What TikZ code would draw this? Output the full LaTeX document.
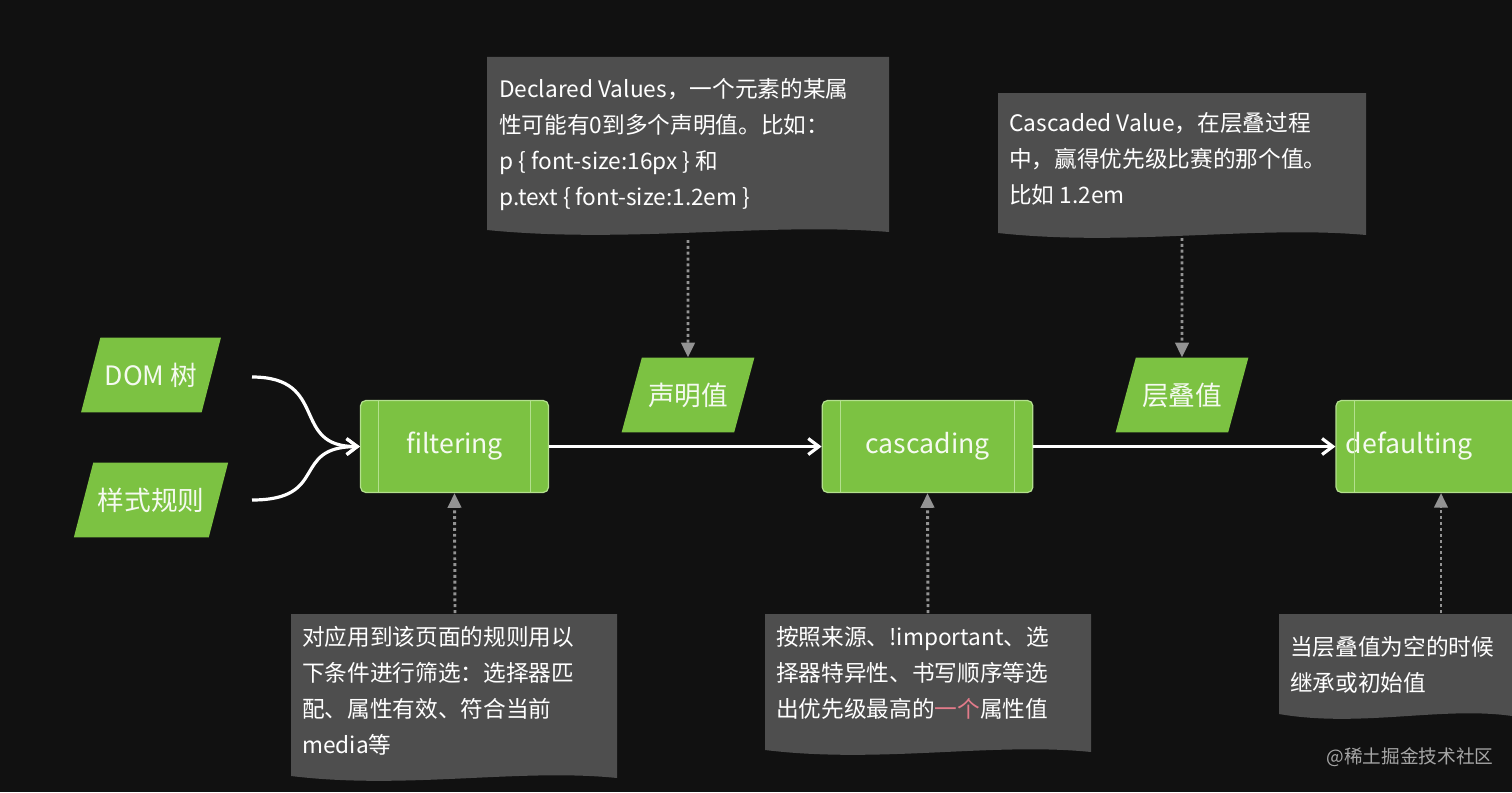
\documentclass[tikz,border=0pt]{standalone}
\usepackage{fontspec}
\setmainfont{Noto Sans CJK SC}
\usetikzlibrary{arrows.meta}
\usetikzlibrary{shapes.geometric}
\definecolor{bgdark}{HTML}{111111}
\definecolor{leaf}{HTML}{7CC242}
\definecolor{leafedge}{HTML}{B4E08E}
\definecolor{notegray}{HTML}{4E4E4E}
\definecolor{hlpink}{HTML}{E27B8A}
\tikzset{
  proc/.style={draw=leafedge, fill=leaf, rounded corners=4pt, line width=0.9pt, text=white!92!leaf, font=\fontsize{20}{24}\selectfont},
  data/.style={trapezium, trapezium left angle=60, trapezium right angle=120, fill=leaf, text=white!92!leaf, font=\fontsize{20}{24}\selectfont, minimum height=56pt, minimum width=100pt, trapezium stretches=true},
  flow/.style={draw=white, line width=2.4pt, -{Straight Barb[length=8pt,width=12pt]}},
  hint/.style={draw=gray!85, line width=2.2pt, dash pattern=on 2.2pt off 2.2pt, -{Triangle[length=11pt,width=10pt]}},
  notetext/.style={anchor=north west, inner sep=0pt, text=white, align=left, font=\fontsize{17}{27}\selectfont}
}
% note sheet with a wavy bottom edge
\newcommand{\notesheet}[4]{%
  \fill[notegray] (#1,#2) -- (#3,#2) -- (#3,#4)
    .. controls ({#3-0.3*(#3-#1)},{#4-10}) and ({#1+0.35*(#3-#1)},{#4+12}) .. (#1,{#4-2}) -- cycle;}
\begin{document}
\begin{tikzpicture}[x=0.75pt,y=0.75pt,yscale=-1,xscale=1]
\fill[bgdark] (0,0) rectangle (1512,792);
\useasboundingbox (0,0) rectangle (1512,792);

% notes
\notesheet{487}{57}{889}{232}
\notesheet{998}{93}{1366}{235}
\notesheet{291}{614}{617}{778}
\notesheet{765}{614}{1091}{752}
\notesheet{1279}{614}{1512}{716}

\node[notetext] (declNote) at (499,78) {Declared Values，一个元素的某属\\性可能有0到多个声明值。比如：\\p \{ font-size:16px \} 和\\p.text \{ font-size:1.2em \}};
\node[notetext] (cascNote) at (1009,112) {Cascaded Value，在层叠过程\\中，赢得优先级比赛的那个值。\\比如 1.2em};
\node[notetext] (filtNote) at (302,626) {对应用到该页面的规则用以\\下条件进行筛选：选择器匹\\配、属性有效、符合当前\\media等};
\node[notetext] (orderNote) at (776,626) {按照来源、!important、选\\择器特异性、书写顺序等选\\出优先级最高的\textcolor{hlpink}{一个}属性值};
\node[notetext] (defNote) at (1290,636) {当层叠值为空的时候\\继承或初始值};

% inputs and values
\node[data] (dom) at (151,375) {DOM 树};
\node[data] (rules) at (151,500) {样式规则};
\node[data] (declared) at (688,395) {声明值};
\node[data] (cascaded) at (1182,395) {层叠值};

% processes
\node[proc, minimum width=141pt, minimum height=69pt] (filtering) at (454.5,446.5) {filtering};
\node[proc, minimum width=158pt, minimum height=69pt] (cascading) at (927.5,446.5) {cascading};
\node[proc, minimum width=150pt, minimum height=69pt] (defaulting) at (1436,446.5) {\hspace*{-40pt}defaulting};
\foreach \b in {filtering,cascading}{
  \draw[leafedge, line width=0.8pt] ([xshift=14pt]\b.north west) -- ([xshift=14pt]\b.south west);
  \draw[leafedge, line width=0.8pt] ([xshift=-14pt]\b.north east) -- ([xshift=-14pt]\b.south east);
}
\draw[leafedge, line width=0.8pt] ([xshift=14pt]defaulting.north west) -- ([xshift=14pt]defaulting.south west);

% main flow
\coordinate (domEnd) at (252,377);
\coordinate (rulesEnd) at (252,500);
\draw[flow] (domEnd) .. controls (330,377) and (290,447) .. (filtering.west);
\draw[flow] (rulesEnd) .. controls (330,500) and (290,447) .. (filtering.west);
\draw[flow] (filtering) -- (cascading);
\draw[flow] (cascading) -- (defaulting);

% hints
\draw[hint] (688,240) -- (declared.north);
\draw[hint] (1182,238) -- (cascaded.north);
\draw[hint] (455,613) -- (filtering.south);
\draw[hint] (928,613) -- (cascading.south);
\draw[hint] (1441,613) -- (1441,493);

\node[text=gray!70, font=\fontsize{14}{16}\selectfont] (mark) at (1410,757) {@稀土掘金技术社区};
\end{tikzpicture}
\end{document}
